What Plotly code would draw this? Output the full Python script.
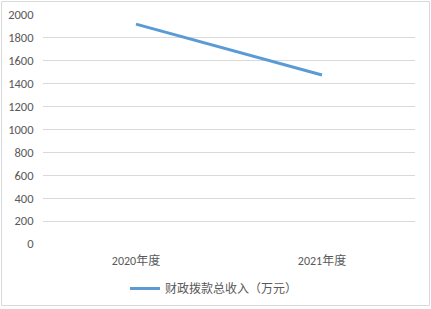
import plotly.graph_objects as go

categories = ["2020年度", "2021年度"]
values = [1920, 1476]
series_name = "财政拨款总收入（万元）"
y_ticks = [0, 200, 400, 600, 800, 1000, 1200, 1400, 1600, 1800, 2000]

W, H = 431, 309
L, R, T, B = 43, 16, 15, 65
pw, ph = W - L - R, H - T - B

font_family = "Calibri, Carlito, 'Noto Sans CJK SC', 'Noto Sans', sans-serif"

fig = go.Figure()
fig.add_trace(go.Scatter(
    x=categories, y=values, mode="lines", name=series_name,
    line=dict(color="#5b9bd5", width=3),
))

def px_x(px):
    return (px - L) / pw

def px_y(py):
    return (H - B - py) / ph

fig.update_layout(
    width=W, height=H,
    margin=dict(l=L, r=R, t=T, b=B, autoexpand=False),
    paper_bgcolor="white", plot_bgcolor="white",
    font=dict(family=font_family, size=12, color="#595959"),
    showlegend=True,
    legend=dict(orientation="h", x=px_x(125), y=px_y(274), xanchor="left", yanchor="top",
                font=dict(size=12, color="#595959")),
    xaxis=dict(type="category", range=[-0.5, 1.5], showgrid=False, showline=False,
               ticks="outside", ticklen=6, tickcolor="rgba(0,0,0,0)",
               tickfont=dict(size=12, color="#595959")),
    yaxis=dict(range=[0, 2000], tickvals=y_ticks, showgrid=True, gridcolor="#d9d9d9",
               gridwidth=1, zeroline=False, showline=False, ticks="outside",
               ticklen=6, tickcolor="rgba(0,0,0,0)",
               tickfont=dict(size=12.5, color="#595959")),
    shapes=[dict(type="rect", xref="paper", yref="paper",
                 x0=px_x(1.5), x1=px_x(429.5), y0=px_y(305.5), y1=px_y(1.5),
                 line=dict(color="#d9d9d9", width=1), fillcolor="rgba(0,0,0,0)", layer="below")],
)

fig.write_html("out.html")
